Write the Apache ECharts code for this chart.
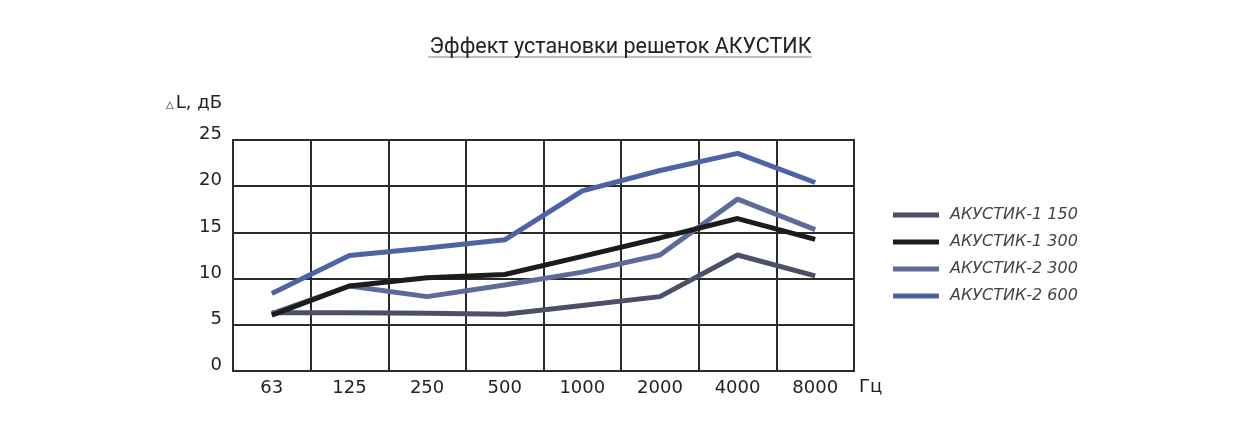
<!DOCTYPE html>
<html>
<head>
<meta charset="utf-8">
<script src="https://cdn.jsdelivr.net/npm/echarts@6/dist/echarts.min.js"></script>
<style>
  html, body { margin: 0; padding: 0; background: #fff; }
  #chart { width: 1241px; height: 438px; }
</style>
</head>
<body>
<div id="chart"></div>
<script>
// частоты, Гц
var freqs = ['63', '125', '250', '500', '1000', '2000', '4000', '8000'];
var yTicks = [0, 5, 10, 15, 20, 25];

var names = ['АКУСТИК-1 150', 'АКУСТИК-1 300', 'АКУСТИК-2 300', 'АКУСТИК-2 600'];
var ak1_150 = [6.3, 6.3, 6.25, 6.15, 7.1, 8.05, 12.55, 10.3];
var ak1_300 = [6.05, 9.2, 10.1, 10.45, 12.4, 14.4, 16.5, 14.25];
var ak2_300 = [6.2, 9.2, 8.05, 9.3, 10.7, 12.55, 18.6, 15.3];
var ak2_600 = [8.4, 12.5, 13.3, 14.2, 19.5, 21.7, 23.55, 20.4];

var colors = ['#4b5068', '#1c1c1c', '#5c6b9a', '#4e62a6'];
var font = 'DejaVu Sans';

var chart = echarts.init(document.getElementById('chart'));

function line (name, data, color) {
  return {
    name: name,
    type: 'line',
    data: data,
    symbol: 'none',
    lineStyle: { width: 5, color: color },
    itemStyle: { color: color }
  };
}

var option = {
  animation: false,
  title: {
    text: 'Эффект установки решеток АКУСТИК',
    left: 'center',
    top: 32,
    textStyle: { fontFamily: 'Roboto', fontWeight: 'normal', fontSize: 21.5, color: '#222' }
  },
  graphic: [{
    type: 'line',
    shape: { x1: 428, y1: 57, x2: 812, y2: 57 },
    style: { stroke: '#aaa', lineWidth: 1.5 }
  }],
  legend: {
    orient: 'vertical',
    left: 888,
    top: 202,
    itemWidth: 46,
    itemHeight: 5,
    itemGap: 11,
    icon: 'rect',
    textStyle: { fontFamily: font, fontStyle: 'italic', fontSize: 16, color: '#444', padding: [0, 0, 0, 6] },
    data: names
  },
  grid: { left: 233, right: 387, top: 140, bottom: 67, show: true, borderColor: '#2a2a2a', borderWidth: 2 },
  xAxis: {
    type: 'category',
    data: freqs,
    boundaryGap: true,
    name: 'Гц',
    nameLocation: 'end',
    nameGap: 5,
    nameTextStyle: { fontFamily: font, fontSize: 18, color: '#222', verticalAlign: 'top', padding: [7, 0, 0, 0] },
    axisLine: { lineStyle: { color: '#2a2a2a', width: 2 } },
    axisTick: { show: false },
    axisLabel: { fontFamily: font, fontSize: 18, color: '#222', margin: 8 },
    splitLine: { show: true, lineStyle: { color: '#2a2a2a', width: 2 } }
  },
  yAxis: {
    type: 'value',
    min: 0,
    max: 25,
    interval: 5,
    name: '{t|△}L, дБ',
    nameLocation: 'end',
    nameGap: 28,
    nameTextStyle: {
      fontFamily: font, fontSize: 18, color: '#222', align: 'right', padding: [0, 11, 0, 0],
      rich: { t: { fontFamily: font, fontSize: 10, color: '#222', padding: [4, 2, 0, 0] } }
    },
    axisLine: { show: true, lineStyle: { color: '#2a2a2a', width: 2 } },
    axisTick: { show: false },
    axisLabel: {
      fontFamily: font, fontSize: 18, color: '#222', margin: 11,
      verticalAlign: 'bottom', lineHeight: 11,
      formatter: function (v) { return yTicks.indexOf(v) >= 0 ? String(v) : ''; }
    },
    splitLine: { lineStyle: { color: '#2a2a2a', width: 2 } }
  },
  series: [
    line(names[0], ak1_150, colors[0]),
    line(names[2], ak2_300, colors[2]),
    line(names[1], ak1_300, colors[1]),
    line(names[3], ak2_600, colors[3])
  ]
};
chart.setOption(option);
</script>
</body>
</html>
